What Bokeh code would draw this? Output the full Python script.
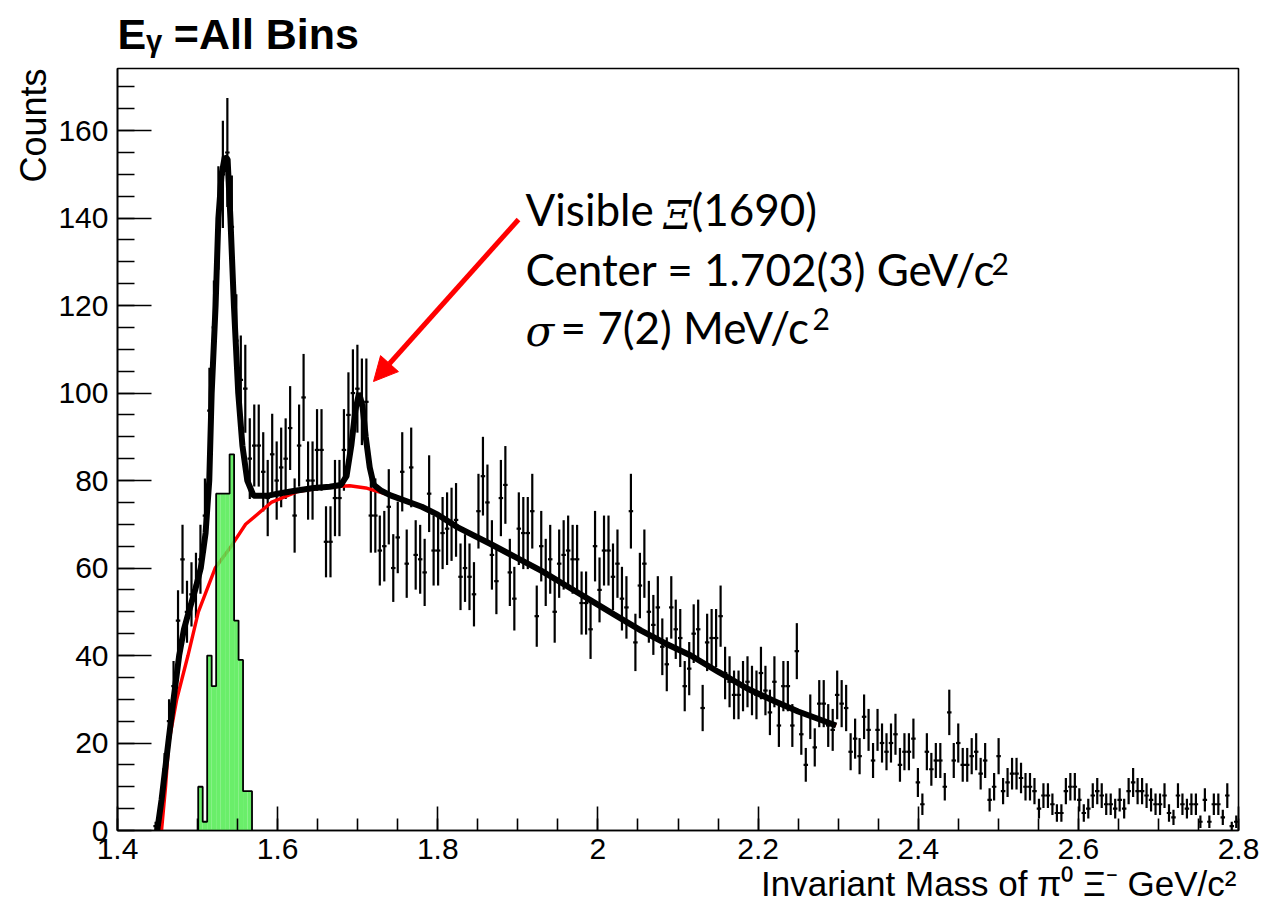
import math

from bokeh.plotting import figure
from bokeh.models import (Range1d, FixedTicker, CustomJSTickFormatter, Label,
                          Arrow, NormalHead, ColumnDataSource, Title)
from bokeh.embed import file_html
from bokeh.resources import INLINE

# ---------------------------------------------------------------------------
# Histogram binning: 250 bins between 1.4 and 2.8 GeV/c^2
MASS_MIN, MASS_MAX, N_BINS = 1.4, 2.8, 250
BIN_W = (MASS_MAX - MASS_MIN) / N_BINS
Y_MAX = 174.2
FIRST_FILLED_BIN = 8          # first bin above pi0 Xi- threshold

# Counts per bin, in mass order
counts_threshold = [1, 3, 14, 25, 33, 48, 62, 50, 54, 56, 62, 72, 96, 115,
                    140, 150, 155, 138, 112, 103, 101, 85]
counts_1570_1750 = [88, 88, 82, 76, 86, 80, 83, 85, 92, 72, 88, 99, 80, 80,
                    87, 87, 66, 66, 76, 76, 87, 95, 100, 101, 98, 98, 72, 72,
                    64, 65, 74, 60, 67]
counts_1750_2110 = [82, 61, 83, 63, 62, 59, 77, 64, 64, 68, 69, 70, 71, 58,
                    60, 58, 54, 73, 81, 75, 63, 57, 76, 79, 59, 53, 69, 68,
                    68, 73, 49, 65, 59, 62, 50, 61, 63, 64, 62, 62, 52, 52,
                    46, 65, 55, 64, 64, 58, 61, 53, 51, 73, 43, 56, 61, 50,
                    47, 51, 42, 38, 51, 46, 44, 33]
counts_2110_2440 = [37, 45, 46, 28, 43, 44, 44, 49, 36, 34, 31, 31, 33, 34,
                    32, 31, 36, 32, 27, 34, 24, 33, 33, 24, 41, 22, 15, 26,
                    19, 29, 29, 24, 23, 31, 29, 28, 18, 21, 17, 26, 23, 16,
                    23, 20, 18, 20, 22, 15, 18, 18, 21, 11, 6, 18, 14, 16,
                    16, 10, 27]
counts_2440_2800 = [16, 20, 15, 15, 17, 18, 13, 16, 7, 10, 17, 9, 11, 13, 13,
                    12, 10, 10, 9, 5, 8, 8, 6, 4, 4, 9, 10, 10, 7, 4, 5, 8,
                    9, 8, 6, 6, 5, 7, 5, 9, 11, 9, 9, 8, 7, 6, 6, 8, 4, 3, 8,
                    6, 5, 6, 6, 2, 7, 2, 6, 6, 3, 8, 1, 2]

# Xi(1530) reference histogram (green)
XI1530_FIRST_BIN = 18
xi1530_counts = [10, 2, 40, 33, 77, 77, 77, 86, 48, 39, 9, 9]

# Background polynomial (red), sampled
bkg_mass = [1.455, 1.460, 1.464, 1.474, 1.488, 1.501, 1.522, 1.542, 1.560,
            1.592, 1.625, 1.660, 1.690, 1.710, 1.741, 1.780, 1.800, 1.825,
            1.866, 1.900, 1.929, 1.960, 1.991, 2.020, 2.054, 2.085, 2.116,
            2.150, 2.187, 2.220, 2.250, 2.2975]
bkg_counts = [0, 10, 20, 30, 40, 50, 60, 65, 70, 75, 77.5, 78.5, 78.8, 78.3,
              76.6, 74.0, 72.2, 69.3, 65.5, 62.2, 59.4, 56.0, 52.6, 49.4,
              45.7, 42.7, 40.0, 36.3, 32.4, 29.6, 27.2, 24.0]

# Total fit (black) through both peaks, sampled up to where it joins the background
fit_mass = [1.4496, 1.455, 1.4634, 1.470, 1.477, 1.483, 1.489, 1.497, 1.504,
            1.510, 1.5146, 1.5176, 1.5225, 1.526, 1.530, 1.534, 1.5375, 1.541,
            1.5454, 1.5508, 1.556, 1.5621, 1.570, 1.587, 1.600, 1.620, 1.645,
            1.665, 1.679, 1.686, 1.692, 1.697, 1.7017, 1.706, 1.710, 1.715,
            1.720, 1.730, 1.741]
fit_counts = [0, 7, 20, 30, 40, 46, 50, 55, 60, 68, 80, 100, 120, 140, 150,
              154, 153.5, 140, 120, 100, 88, 80, 76.5, 76.5, 77, 77.6, 78.3,
              78.6, 79, 81, 88, 96, 100, 97, 90, 83, 79, 77.6, 76.6]

x_major = [1.4, 1.6, 1.8, 2.0, 2.2, 2.4, 2.6, 2.8]
y_major = [0, 20, 40, 60, 80, 100, 120, 140, 160]

# ---------------------------------------------------------------------------
counts = (counts_threshold + counts_1570_1750 + counts_1750_2110
          + counts_2110_2440 + counts_2440_2800)
lo_edge = [MASS_MIN + (FIRST_FILLED_BIN + i) * BIN_W for i in range(len(counts))]
hi_edge = [e + BIN_W for e in lo_edge]
center = [e + BIN_W / 2 for e in lo_edge]
err = [math.sqrt(c) for c in counts]

data = ColumnDataSource(dict(
    x=center, lo=lo_edge, hi=hi_edge, y=counts,
    ylo=[c - e for c, e in zip(counts, err)],
    yhi=[c + e for c, e in zip(counts, err)],
))

g_lo = [MASS_MIN + (XI1530_FIRST_BIN + i) * BIN_W for i in range(len(xi1530_counts))]
g_hi = [e + BIN_W for e in g_lo]
g_src = ColumnDataSource(dict(left=g_lo, right=g_hi, top=xi1530_counts))
# outer outline of the green histogram
ol_x, ol_y = [g_lo[0]], [0]
for l, r, h in zip(g_lo, g_hi, xi1530_counts):
    ol_x += [l, r]
    ol_y += [h, h]
ol_x.append(g_hi[-1])
ol_y.append(0)

# black curve continues along the background once the peaks have died out
tot_x = fit_mass + [m for m in bkg_mass if m > fit_mass[-1]]
tot_y = fit_counts + [c for m, c in zip(bkg_mass, bkg_counts) if m > fit_mass[-1]]

# ---------------------------------------------------------------------------
LEFT, RIGHT, TOP, BOTTOM = 117, 23, 68, 83
FRAME_W, FRAME_H = 1121, 762
LBL_FONT = "Liberation Sans"

p = figure(frame_width=FRAME_W, frame_height=FRAME_H,
           output_backend="svg", toolbar_location=None,
           x_range=Range1d(MASS_MIN, MASS_MAX), y_range=Range1d(0, Y_MAX),
           min_border_left=LEFT, min_border_right=RIGHT,
           min_border_top=TOP, min_border_bottom=BOTTOM)
p.background_fill_color = "white"
p.border_fill_color = "white"
p.outline_line_color = "black"
p.outline_line_width = 1.6
p.xgrid.visible = False
p.ygrid.visible = False

# plot title, E with subscript gamma
p.title.text = "Eᵧ =All Bins"
p.title.align = "left"
p.title.vertical_align = "top"
p.title.text_font = LBL_FONT
p.title.text_font_size = "43px"
p.title.text_font_style = "bold"
p.title.text_color = "black"
p.title.standoff = 18
p.title.offset = 0

# axis titles, pushed to the far ends like ROOT does
p.add_layout(Title(text="Counts", align="right", text_font=LBL_FONT,
                   text_font_size="36px", text_font_style="normal",
                   text_color="black", standoff=4), "left")
p.add_layout(Title(text="Invariant Mass of π⁰ Ξ⁻ GeV/c²", align="right",
                   text_font=LBL_FONT, text_font_size="35px",
                   text_font_style="normal", text_color="black",
                   standoff=0, offset=2), "below")


def sx(px):
    """Canvas pixel column -> mass coordinate."""
    return MASS_MIN + (px - LEFT) * (MASS_MAX - MASS_MIN) / FRAME_W


def sy(py):
    """Canvas pixel row -> counts coordinate."""
    return Y_MAX - (py - TOP) * Y_MAX / FRAME_H


p.xaxis.ticker = FixedTicker(ticks=x_major,
                             minor_ticks=[round(1.4 + 0.05 * i, 2) for i in range(29)])
p.yaxis.ticker = FixedTicker(ticks=y_major, minor_ticks=list(range(0, 175, 5)))
p.xaxis.formatter = CustomJSTickFormatter(
    code="return (Math.round(tick * 10) / 10).toString();")
for ax, tin in ((p.xaxis, 24), (p.yaxis, 34)):
    ax.major_tick_in = tin
    ax.major_tick_out = 0
    ax.minor_tick_in = tin // 2
    ax.minor_tick_out = 0
    ax.major_tick_line_width = 1.6
    ax.minor_tick_line_width = 1.6
    ax.axis_line_width = 1.6
    ax.major_tick_line_color = "black"
    ax.minor_tick_line_color = "black"
    ax.axis_line_color = "black"
    ax.major_label_text_font = LBL_FONT
    ax.major_label_text_font_size = "30px"
    ax.major_label_text_color = "black"
p.xaxis.major_label_standoff = 8
p.yaxis.major_label_standoff = 9

# data error bars
p.segment(x0="x", y0="ylo", x1="x", y1="yhi", source=data,
          line_color="black", line_width=2.2)
p.segment(x0="lo", y0="y", x1="hi", y1="y", source=data,
          line_color="black", line_width=2.2)

# background fit
p.line(bkg_mass, bkg_counts, line_color="#ff0000", line_width=3.4)

# Xi(1530) histogram
p.quad(left="left", right="right", bottom=0, top="top", source=g_src,
       fill_color="#55ec55", fill_alpha=0.88, line_color=None)
p.line(ol_x, ol_y, line_color="black", line_width=1.8)

# total fit
p.line(tot_x, tot_y, line_color="black", line_width=6)

# ---------------------------------------------------------------------------
# annotation of the Xi(1690) signal (y given at the bottom of each text box)
NOTE_FONT = "Lato"
notes = [
    (525, 234, "Visible ", NOTE_FONT, "44px", "normal"),
    (663, 237, "Ξ", "DejaVu Serif", "40px", "italic"),
    (691, 234, "(1690)", NOTE_FONT, "44px", "normal"),
    (525, 294, "Center = 1.702(3) GeV/c", NOTE_FONT, "44px", "normal"),
    (991, 274, "2", NOTE_FONT, "30px", "normal"),
    (525, 355, "σ", "DejaVu Serif", "42px", "italic"),
    (560, 352, "= 7(2) MeV/c", NOTE_FONT, "44px", "normal"),
    (812, 329, "2", NOTE_FONT, "30px", "normal"),
]
for px, py, txt, font, size, style in notes:
    p.add_layout(Label(x=sx(px), y=sy(py), text=txt, text_font=font,
                       text_font_size=size, text_font_style=style,
                       text_color="black"))

p.add_layout(Arrow(end=NormalHead(size=24, fill_color="#ff0000",
                                  line_color="#ff0000"),
                   x_start=sx(518), y_start=sy(219),
                   x_end=sx(373), y_end=sy(381),
                   line_color="#ff0000", line_width=5))

open("out.html", "w").write(file_html(p, INLINE))
